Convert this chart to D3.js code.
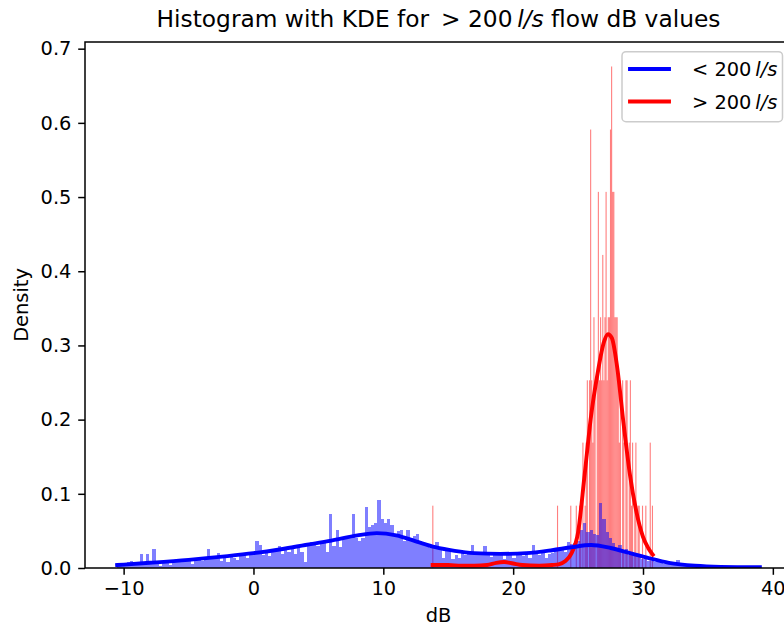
<!DOCTYPE html>
<html>
<head>
<meta charset="utf-8">
<script src="https://cdn.jsdelivr.net/npm/d3@7"></script>
<style>
  html, body { margin: 0; padding: 0; background: #fff; }
  svg { display: block; font-family: "DejaVu Sans", sans-serif; }
</style>
</head>
<body>
<svg id="chart" width="784" height="628"></svg>
<script>
// ---- data -------------------------------------------------------------
// Histogram of dB values for flows below 200 l/s (density, 200 equal bins)
const blueBinStart = -10.5;
const blueBinWidth = 0.2475;
const blueDensity = [
  0.004, 0.006, 0.005, 0.008, 0.010, 0.006, 0.007, 0.019, 0.004, 0.019,
  0.008, 0.026, 0.009, 0.003, 0.008, 0.010, 0.004, 0.011, 0.009, 0.012,
  0.011, 0.010, 0.012, 0.006, 0.011, 0.013, 0.009, 0.013, 0.026, 0.012,
  0.014, 0.020, 0.010, 0.015, 0.008, 0.019, 0.014, 0.011, 0.016, 0.017,
  0.013, 0.018,
  0.019, 0.036, 0.031, 0.018, 0.021, 0.016, 0.022, 0.023, 0.030, 0.019,
  0.025, 0.021, 0.026, 0.019, 0.027, 0.022, 0.008, 0.030, 0.035, 0.031,
  0.030, 0.033, 0.034, 0.022, 0.073, 0.030, 0.051, 0.028, 0.039, 0.040,
  0.041, 0.073, 0.041, 0.036, 0.040, 0.082, 0.055, 0.058, 0.060, 0.092,
  0.066, 0.061,
  0.066, 0.058, 0.045, 0.050, 0.051, 0.036, 0.051, 0.040, 0.043, 0.046,
  0.037, 0.033, 0.031, 0.027, 0.029, 0.035, 0.024, 0.013, 0.025, 0.024,
  0.012, 0.018, 0.014, 0.021, 0.017, 0.020, 0.031, 0.018, 0.022, 0.018,
  0.030, 0.017, 0.015, 0.020, 0.017, 0.021, 0.012, 0.018, 0.021, 0.014,
  0.020, 0.018,
  0.016, 0.021, 0.014, 0.031, 0.020, 0.018, 0.024, 0.014, 0.019, 0.020,
  0.025, 0.023, 0.027, 0.021, 0.035, 0.033, 0.034, 0.036, 0.051, 0.061,
  0.049, 0.051, 0.046, 0.044, 0.088, 0.066, 0.048, 0.040, 0.034, 0.027,
  0.031, 0.023, 0.026, 0.018, 0.020, 0.016, 0.015, 0.012, 0.014, 0.009,
  0.010, 0.008, 0.011, 0.007, 0.006, 0.008, 0.005, 0.004, 0.011, 0.004,
  0.003, 0.005, 0.002, 0.004, 0.003, 0.002, 0.001, 0.003, 0.002, 0.001,
  0.002, 0.001, 0.002, 0.001, 0.002, 0.001, 0.001, 0.003, 0.002, 0.003,
  0.002, 0.003, 0.002, 0.003
];

// Histogram of dB values for flows above 200 l/s (200 bins, non-empty bins only)
const redBinStart = 13.77;
const redBinWidth = 0.085;
const redBinIndex = [
  0, 113, 125, 130, 133, 134, 136, 138, 139, 140, 142, 143, 144, 145, 146, 147,
  149, 150, 151, 152, 153, 154, 155, 156, 157, 158, 159, 160, 161, 162, 163,
  164, 165, 166, 167, 168, 169, 170, 172, 173, 175, 176, 178, 179, 180, 181,
  183, 184, 186, 187, 190, 193, 197, 199
];
const redDensity = [
  0.084, 0.084, 0.084, 0.084, 0.084, 0.084, 0.169, 0.084, 0.169, 0.253, 0.253, 0.591, 0.253, 0.169, 0.338, 0.253,
  0.253, 0.507, 0.253, 0.338, 0.253, 0.422, 0.253, 0.338, 0.507, 0.253, 0.338, 0.338, 0.591, 0.676, 0.507,
  0.507, 0.338, 0.338, 0.338, 0.253, 0.169, 0.253, 0.253, 0.169, 0.253, 0.253, 0.169, 0.253, 0.084, 0.169,
  0.084, 0.169, 0.084, 0.084, 0.084, 0.084, 0.169, 0.084
];

// Kernel density estimates (dB, density)
const blueKdeX = [-10.5, -8, -5, -2, 0, 2, 4, 6, 8, 9.5, 11, 12.5, 14, 15.5, 17, 19, 21, 23, 24.5, 26, 27.5, 29, 30.5, 32, 34, 36, 39];
const blueKdeY = [0.004, 0.007, 0.011, 0.016, 0.020, 0.025, 0.031, 0.037, 0.044, 0.047, 0.044, 0.036, 0.028, 0.023, 0.020, 0.019, 0.020, 0.024, 0.028, 0.031, 0.027, 0.020, 0.013, 0.007, 0.003, 0.0015, 0.001];

const redKdeX = [13.8, 15, 16, 17, 18, 18.7, 19.3, 20, 20.7, 22, 23, 23.5, 24, 24.5, 25, 25.5, 26, 26.5, 27, 27.3, 27.6, 28, 28.5, 29, 29.5, 30, 30.4, 30.75];
const redKdeY = [0.004, 0.004, 0.003, 0.003, 0.004, 0.007, 0.008, 0.006, 0.004, 0.003, 0.004, 0.005, 0.009, 0.020, 0.048, 0.125, 0.205, 0.262, 0.305, 0.315, 0.31, 0.272, 0.195, 0.125, 0.075, 0.042, 0.027, 0.018];

const xTicks = [-10, 0, 10, 20, 30, 40];
const yTicks = [0, 0.1, 0.2, 0.3, 0.4, 0.5, 0.6, 0.7];

// ---- layout -----------------------------------------------------------
const svg = d3.select("#chart");
const plotLeft = 85, plotRight = 792, plotTop = 42, plotBottom = 568;
const fontSize = 19.4, titleSize = 23.3, tickLen = 6.8, lineW = 3.9, spineW = 1.5;

const x = d3.scaleLinear().domain([-12.975, 41.475]).range([plotLeft, plotRight]);
const y = d3.scaleLinear().domain([0, 0.709]).range([plotBottom, plotTop]);

svg.append("rect").attr("width", 784).attr("height", 628).attr("fill", "#fff");

svg.append("defs").append("clipPath").attr("id", "plot")
  .append("rect").attr("x", plotLeft).attr("y", plotTop)
  .attr("width", plotRight - plotLeft).attr("height", plotBottom - plotTop);

const plot = svg.append("g").attr("clip-path", "url(#plot)");

// red histogram (drawn underneath)
plot.append("g").selectAll("rect")
  .data(redBinIndex.map((k, j) => ({ x0: redBinStart + k * redBinWidth, d: redDensity[j] })))
  .join("rect")
  .attr("x", d => x(d.x0))
  .attr("width", d => x(d.x0 + redBinWidth) - x(d.x0))
  .attr("y", d => y(d.d))
  .attr("height", d => y(0) - y(d.d))
  .attr("fill", "#ff0000")
  .attr("fill-opacity", 0.5);

// blue histogram
plot.append("g").attr("shape-rendering", "crispEdges").selectAll("rect")
  .data(blueDensity.map((v, i) => ({ x0: blueBinStart + i * blueBinWidth, x1: blueBinStart + (i + 1) * blueBinWidth, d: v })))
  .join("rect")
  .attr("x", d => x(d.x0))
  .attr("width", d => x(d.x1) - x(d.x0))
  .attr("y", d => y(d.d))
  .attr("height", d => y(0) - y(d.d))
  .attr("fill", "#0000ff")
  .attr("fill-opacity", 0.5);

// KDE curves
const line = d3.line().x(d => x(d[0])).y(d => y(d[1])).curve(d3.curveMonotoneX);
plot.append("path")
  .attr("d", line(redKdeX.map((v, i) => [v, redKdeY[i]])))
  .attr("fill", "none").attr("stroke", "#ff0000").attr("stroke-width", lineW)
  .attr("stroke-linejoin", "round").attr("stroke-linecap", "square");
plot.append("path")
  .attr("d", line(blueKdeX.map((v, i) => [v, blueKdeY[i]])))
  .attr("fill", "none").attr("stroke", "#0000ff").attr("stroke-width", lineW)
  .attr("stroke-linejoin", "round").attr("stroke-linecap", "square");

// ---- axes -------------------------------------------------------------
const fmtX = d => d < 0 ? "\u2212" + Math.abs(d) : String(d);
const xAxis = d3.axisBottom(x).tickValues(xTicks).tickFormat(fmtX).tickSize(tickLen).tickPadding(tickLen);
const yAxis = d3.axisLeft(y).tickValues(yTicks).tickFormat(d3.format(".1f")).tickSize(tickLen).tickPadding(tickLen);

const gx = svg.append("g").attr("transform", `translate(0,${plotBottom})`).call(xAxis);
const gy = svg.append("g").attr("transform", `translate(${plotLeft},0)`).call(yAxis);
[gx, gy].forEach(g => {
  g.select(".domain").remove();
  g.selectAll(".tick line").attr("stroke", "#000").attr("stroke-width", spineW);
  g.selectAll(".tick text").attr("fill", "#000").attr("font-size", fontSize)
    .attr("font-family", "DejaVu Sans");
});

// spines
svg.append("rect").attr("x", plotLeft).attr("y", plotTop)
  .attr("width", plotRight - plotLeft).attr("height", plotBottom - plotTop)
  .attr("fill", "none").attr("stroke", "#000").attr("stroke-width", spineW);

// axis labels
svg.append("text").attr("x", (plotLeft + plotRight) / 2).attr("y", 622)
  .attr("text-anchor", "middle").attr("font-size", fontSize).text("dB");
svg.append("text").attr("transform", `translate(28,${(plotTop + plotBottom) / 2}) rotate(-90)`)
  .attr("text-anchor", "middle").attr("font-size", fontSize).text("Density");

// title with math-style flow unit
const title = svg.append("text").attr("x", (plotLeft + plotRight) / 2).attr("y", 27)
  .attr("text-anchor", "middle").attr("font-size", titleSize);
title.append("tspan").text("Histogram with KDE for \u2009> 200\u2009");
title.append("tspan").attr("font-style", "italic").text("l/s");
title.append("tspan").text(" flow dB values");

// ---- legend -----------------------------------------------------------
const legend = svg.append("g");
legend.append("rect").attr("x", 622).attr("y", 51.7).attr("width", 160.5).attr("height", 70)
  .attr("rx", 4).attr("fill", "#fff").attr("fill-opacity", 0.8)
  .attr("stroke", "#cccccc").attr("stroke-width", spineW);
const legendItems = [
  { sym: "<", color: "#0000ff", yy: 69 },
  { sym: ">", color: "#ff0000", yy: 101.5 }
];
legendItems.forEach(it => {
  legend.append("line").attr("x1", 630).attr("x2", 669).attr("y1", it.yy).attr("y2", it.yy)
    .attr("stroke", it.color).attr("stroke-width", lineW).attr("stroke-linecap", "square");
  const t = legend.append("text").attr("x", 692).attr("y", it.yy + 7).attr("font-size", fontSize);
  t.append("tspan").text(it.sym + " 200\u2009");
  t.append("tspan").attr("font-style", "italic").text("l/s");
});
</script>
</body>
</html>
